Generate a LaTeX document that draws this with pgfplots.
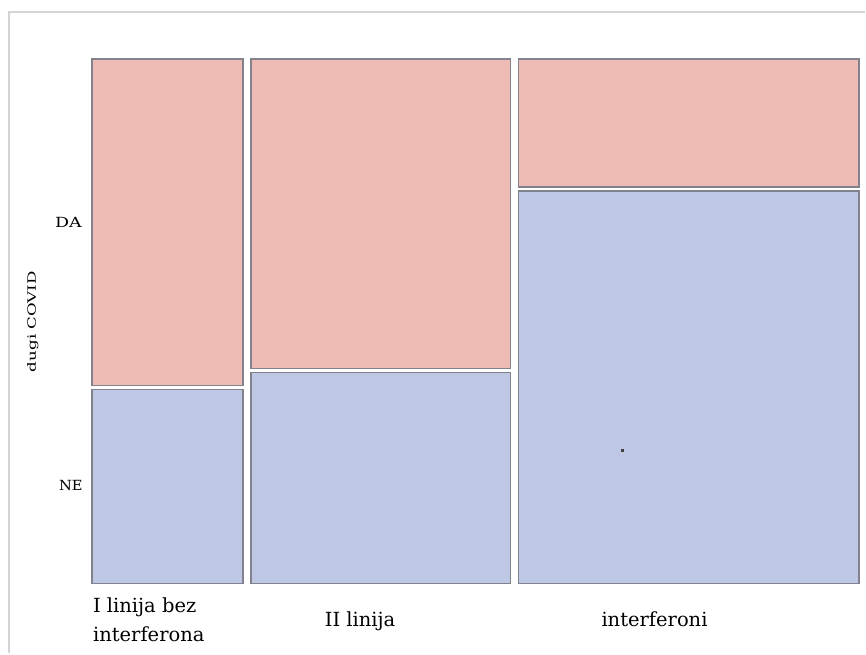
\documentclass[border=0pt]{standalone}
\usepackage{fontspec}
\setmainfont{DejaVu Serif}
\usepackage{graphicx}
\usepackage{pgfplots}
\pgfplotsset{compat=1.18}
\definecolor{pinkfill}{RGB}{239,188,181}
\definecolor{bluefill}{RGB}{190,200,228}
\definecolor{edgegray}{RGB}{130,130,140}
\definecolor{framegray}{RGB}{212,212,212}
\begin{document}
\begin{tikzpicture}
\begin{axis}[
  x=1pt, y=1pt, y dir=reverse,
  xmin=92, xmax=860, ymin=59, ymax=584,
  hide axis, clip=false,
]
% page extent
\addplot[draw=none] coordinates {(0,0) (866,654)};
% outer frame
\addplot[color=framegray, line width=2pt] coordinates {(9,654) (9,12) (866,12)};
% column 1: I linija bez interferona
\addplot[fill=pinkfill, draw=edgegray, line width=1.6pt] coordinates {(92,59) (243,59) (243,386) (92,386)} -- cycle;
\addplot[fill=bluefill, draw=edgegray, line width=1.6pt] coordinates {(92,390) (243,390) (243,584) (92,584)} -- cycle;
% column 2: II linija
\addplot[fill=pinkfill, draw=edgegray, line width=1.6pt] coordinates {(251,59) (511,59) (511,369) (251,369)} -- cycle;
\addplot[fill=bluefill, draw=edgegray, line width=1.6pt] coordinates {(251,373) (511,373) (511,584) (251,584)} -- cycle;
% column 3: interferoni
\addplot[fill=pinkfill, draw=edgegray, line width=1.6pt] coordinates {(519,59) (860,59) (860,187) (519,187)} -- cycle;
\addplot[fill=bluefill, draw=edgegray, line width=1.6pt] coordinates {(519,191) (860,191) (860,584) (519,584)} -- cycle;
% stray point
\addplot[only marks, mark=square*, mark size=1pt, color=black!75] coordinates {(623,451)};
% labels
\node[anchor=base east, inner sep=0pt, font=\fontsize{14}{16}\selectfont] at (axis cs:82,228) {\scalebox{1.25}[1]{DA}};
\node[anchor=base east, inner sep=0pt, font=\fontsize{14}{16}\selectfont] at (axis cs:83,491) {\scalebox{1.05}[1]{NE}};
\node[anchor=base, rotate=90, inner sep=0pt, font=\fontsize{11.5}{13}\selectfont] at (axis cs:36,322) {\scalebox{1.45}[1]{dugi COVID}};
\node[anchor=base west, inner sep=0pt, font=\fontsize{19.5}{23}\selectfont] at (axis cs:93,613) {I linija bez};
\node[anchor=base west, inner sep=0pt, font=\fontsize{19.5}{23}\selectfont] at (axis cs:93,642) {interferona};
\node[anchor=base west, inner sep=0pt, font=\fontsize{19.5}{23}\selectfont] at (axis cs:325,627) {II linija};
\node[anchor=base west, inner sep=0pt, font=\fontsize{19.5}{23}\selectfont] at (axis cs:602,627) {interferoni};
\end{axis}
\end{tikzpicture}
\end{document}
